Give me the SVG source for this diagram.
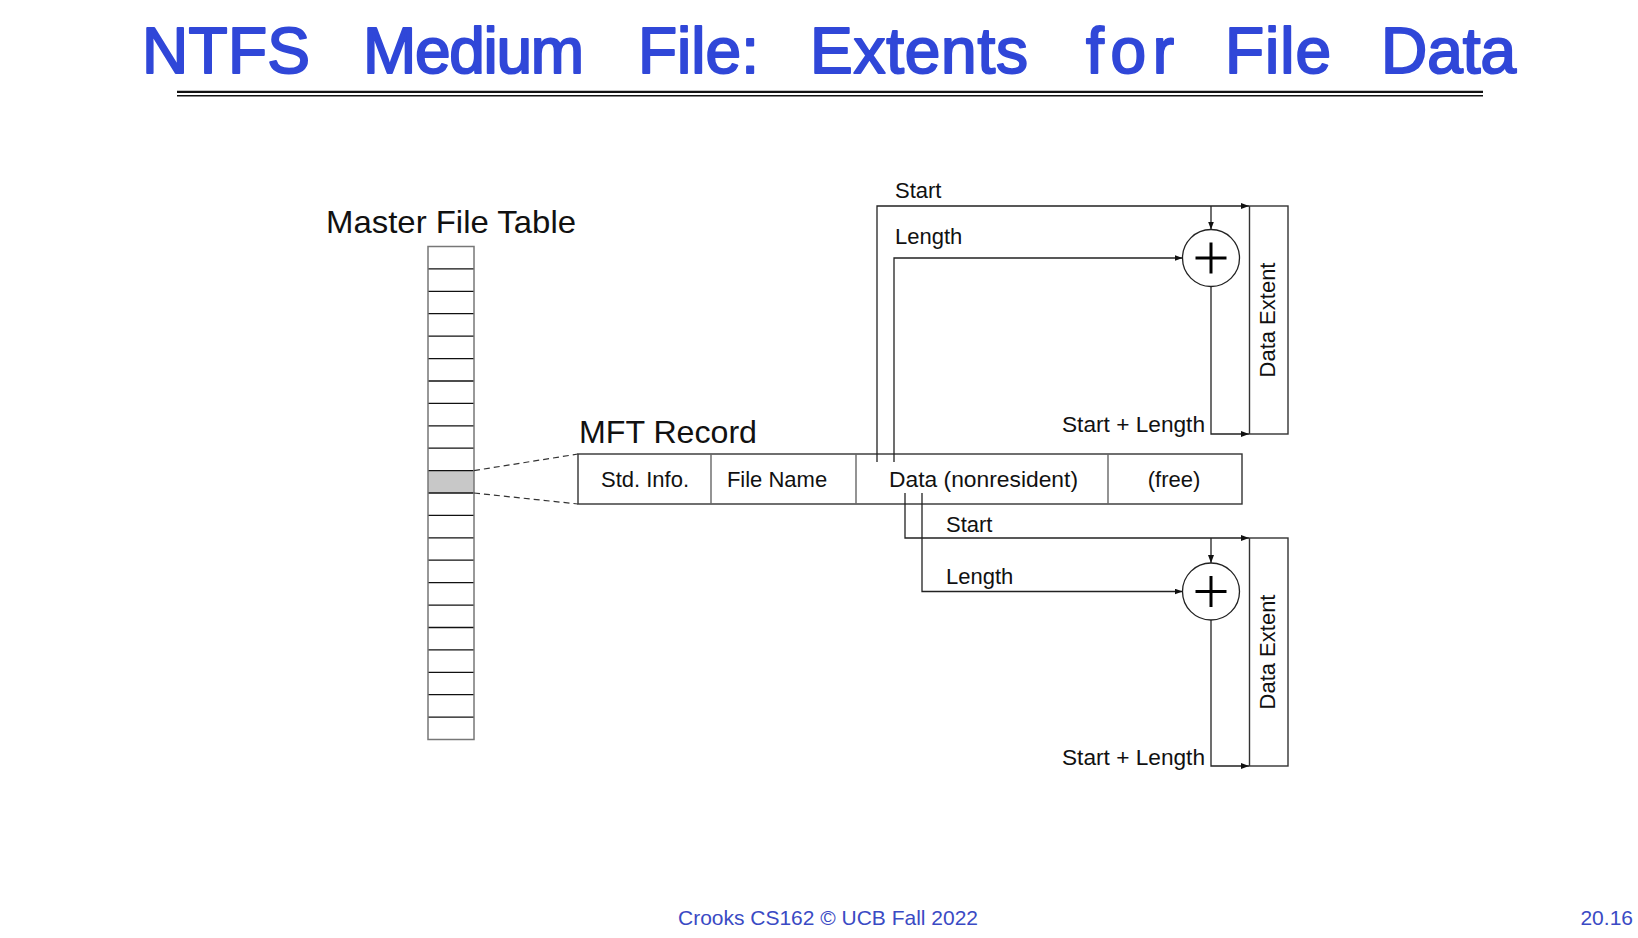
<svg xmlns="http://www.w3.org/2000/svg" width="1638" height="938" viewBox="0 0 1638 938">
  <defs>
    <style>
      .title { font-family: "Liberation Sans", Arial, sans-serif; font-weight: normal; font-size: 64px; fill: #3047d8; stroke: #3047d8; stroke-width: 2px; stroke-linejoin: round; }
      .lbl { font-family: "Liberation Sans", Arial, sans-serif; font-size: 22px; fill: #111; }
      .big { font-family: "Liberation Sans", Arial, sans-serif; font-size: 32px; fill: #111; }
      .foot { font-family: "Liberation Sans", Arial, sans-serif; font-size: 21px; fill: #3a4ac4; }
      .row { stroke: #111; stroke-width: 1.3; }
      .side { fill: none; stroke: #777; stroke-width: 1.5; }
      .box { fill: #fff; stroke: #333; stroke-width: 1.4; }
      .div { stroke: #666; stroke-width: 1.4; }
      .wire { fill: none; stroke: #222; stroke-width: 1.3; }
      .dash { fill: none; stroke: #333; stroke-width: 1.2; stroke-dasharray: 6 4; }
      .add { fill: #fff; stroke: #222; stroke-width: 1.3; }
      .plus { stroke: #000; stroke-width: 3; }
    </style>
    <marker id="arr" viewBox="0 0 8 6" refX="8" refY="3" markerWidth="8" markerHeight="6" markerUnits="userSpaceOnUse" orient="auto">
      <path d="M0,0 L8,3 L0,6 z" fill="#111"/>
    </marker>
  </defs>
  <rect width="1638" height="938" fill="#fff"/>

  <g id="title">
    <text class="title" x="142" y="73" textLength="168" lengthAdjust="spacing">NTFS</text>
    <text class="title" x="363" y="73" textLength="221" lengthAdjust="spacing">Medium</text>
    <text class="title" x="638" y="73" textLength="121" lengthAdjust="spacing">File:</text>
    <text class="title" x="810" y="73" textLength="218" lengthAdjust="spacing">Extents</text>
    <text class="title" x="1086" y="73" textLength="88" lengthAdjust="spacing">for</text>
    <text class="title" x="1225" y="73" textLength="106" lengthAdjust="spacing">File</text>
    <text class="title" x="1381" y="73" textLength="135" lengthAdjust="spacing">Data</text>
    <line x1="177" y1="91.8" x2="1483" y2="91.8" stroke="#111" stroke-width="2.2"/>
    <line x1="177" y1="95.8" x2="1483" y2="95.8" stroke="#111" stroke-width="1.4"/>
  </g>

  <g id="mft-table">
    <text class="big" x="326" y="233" textLength="250" lengthAdjust="spacingAndGlyphs">Master File Table</text>
    <rect x="428" y="470.6" width="46" height="22.4" fill="#c8c8c8"/>
    <g class="row">
      <line x1="428" y1="268.9" x2="474" y2="268.9"/>
      <line x1="428" y1="291.3" x2="474" y2="291.3"/>
      <line x1="428" y1="313.7" x2="474" y2="313.7"/>
      <line x1="428" y1="336.1" x2="474" y2="336.1"/>
      <line x1="428" y1="358.6" x2="474" y2="358.6"/>
      <line x1="428" y1="381.0" x2="474" y2="381.0"/>
      <line x1="428" y1="403.4" x2="474" y2="403.4"/>
      <line x1="428" y1="425.8" x2="474" y2="425.8"/>
      <line x1="428" y1="448.2" x2="474" y2="448.2"/>
      <line x1="428" y1="470.6" x2="474" y2="470.6"/>
      <line x1="428" y1="493.0" x2="474" y2="493.0"/>
      <line x1="428" y1="515.4" x2="474" y2="515.4"/>
      <line x1="428" y1="537.8" x2="474" y2="537.8"/>
      <line x1="428" y1="560.2" x2="474" y2="560.2"/>
      <line x1="428" y1="582.7" x2="474" y2="582.7"/>
      <line x1="428" y1="605.1" x2="474" y2="605.1"/>
      <line x1="428" y1="627.5" x2="474" y2="627.5"/>
      <line x1="428" y1="649.9" x2="474" y2="649.9"/>
      <line x1="428" y1="672.3" x2="474" y2="672.3"/>
      <line x1="428" y1="694.7" x2="474" y2="694.7"/>
      <line x1="428" y1="717.1" x2="474" y2="717.1"/>
    </g>
    <rect class="side" x="428" y="246.5" width="46" height="493"/>
  </g>

  <g id="mft-record">
    <text class="big" x="579" y="443" textLength="178" lengthAdjust="spacingAndGlyphs">MFT Record</text>
    <rect class="box" x="578" y="454" width="664" height="50"/>
    <line class="div" x1="711" y1="454" x2="711" y2="504"/>
    <line class="div" x1="856" y1="454" x2="856" y2="504"/>
    <line class="div" x1="1108" y1="454" x2="1108" y2="504"/>
    <text class="lbl" x="645" y="487" text-anchor="middle">Std. Info.</text>
    <text class="lbl" x="777" y="487" text-anchor="middle">File Name</text>
    <text class="lbl" x="983.5" y="487" text-anchor="middle" textLength="189" lengthAdjust="spacingAndGlyphs">Data (nonresident)</text>
    <text class="lbl" x="1174" y="487" text-anchor="middle">(free)</text>
  </g>

  <g id="extent-1">
    <rect class="box" x="1249.5" y="206" width="38.5" height="228"/>
    <text class="lbl" transform="translate(1275,320) rotate(-90)" text-anchor="middle">Data Extent</text>
  </g>
  <g id="extent-2">
    <rect class="box" x="1249.5" y="538" width="38.5" height="228"/>
    <text class="lbl" transform="translate(1275,652) rotate(-90)" text-anchor="middle">Data Extent</text>
  </g>

  <g id="adder-1">
    <circle class="add" cx="1211" cy="258" r="28.5"/>
    <line class="plus" x1="1195.5" y1="258" x2="1226.5" y2="258"/>
    <line class="plus" x1="1211" y1="242.5" x2="1211" y2="273.5"/>
  </g>
  <g id="adder-2">
    <circle class="add" cx="1211" cy="591.5" r="28.5"/>
    <line class="plus" x1="1195.5" y1="591.5" x2="1226.5" y2="591.5"/>
    <line class="plus" x1="1211" y1="576" x2="1211" y2="607"/>
  </g>

  <g id="connectors">
    <path class="dash" d="M474,470.6 L578,454"/>
    <path class="dash" d="M474,493 L578,504"/>
    <path class="wire" d="M877,462 V206 H1249" marker-end="url(#arr)"/>
    <path class="wire" d="M894,462 V258 H1182.5" marker-end="url(#arr)"/>
    <path class="wire" d="M1211,206 V229.5" marker-end="url(#arr)"/>
    <path class="wire" d="M1211,286.5 V434 H1249" marker-end="url(#arr)"/>
    <path class="wire" d="M905,493 V538 H1249" marker-end="url(#arr)"/>
    <path class="wire" d="M922,493 V591.5 H1182.5" marker-end="url(#arr)"/>
    <path class="wire" d="M1211,538 V563" marker-end="url(#arr)"/>
    <path class="wire" d="M1211,620 V766 H1249" marker-end="url(#arr)"/>
    <text class="lbl" x="895" y="198">Start</text>
    <text class="lbl" x="895" y="244">Length</text>
    <text class="lbl" x="1205" y="432" text-anchor="end" textLength="143" lengthAdjust="spacingAndGlyphs">Start + Length</text>
    <text class="lbl" x="946" y="532">Start</text>
    <text class="lbl" x="946" y="584">Length</text>
    <text class="lbl" x="1205" y="765" text-anchor="end" textLength="143" lengthAdjust="spacingAndGlyphs">Start + Length</text>
  </g>

  <g id="footer">
    <text class="foot" x="678" y="925" textLength="300" lengthAdjust="spacingAndGlyphs">Crooks CS162 © UCB Fall 2022</text>
    <text class="foot" x="1633" y="925" text-anchor="end">20.16</text>
  </g>
</svg>
